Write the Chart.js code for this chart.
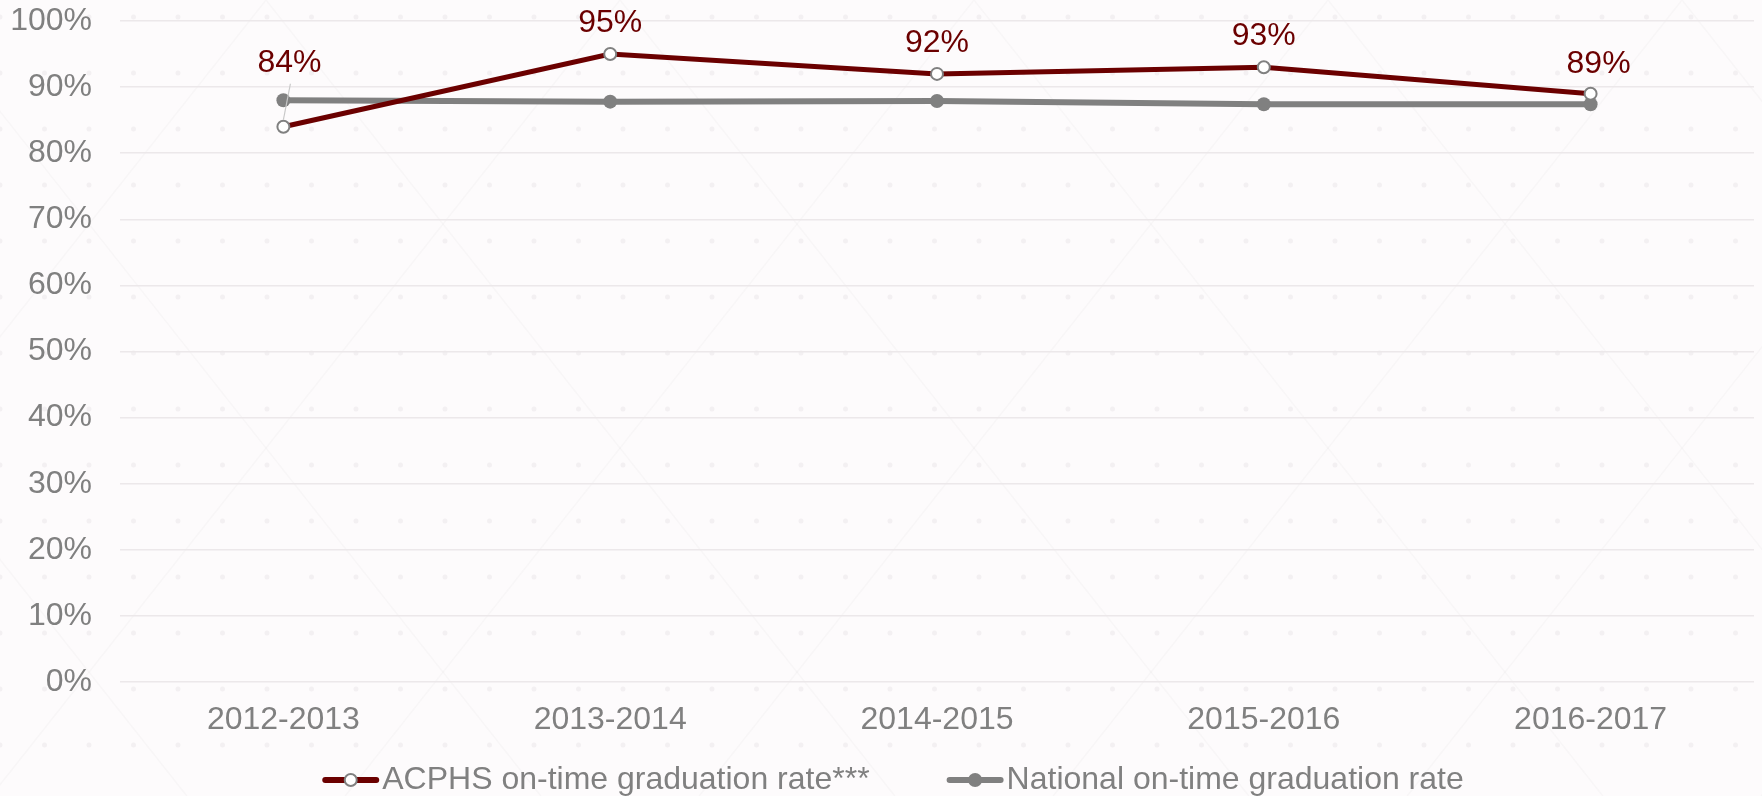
<!DOCTYPE html>
<html>
<head>
<meta charset="utf-8">
<script src="https://cdn.jsdelivr.net/npm/chart.js@4.4.1/dist/chart.umd.min.js"></script>
<style>
html, body { margin: 0; padding: 0; background: #fdfbfc; }
#wrap { width: 1762px; height: 796px; position: relative; }
</style>
</head>
<body>
<div id="wrap"><canvas id="gradChart"></canvas></div>
<script>
// data
var years = ["2012-2013", "2013-2014", "2014-2015", "2015-2016", "2016-2017"];
var acphsRate = [84, 95, 92, 93, 89];
var nationalRate = [88.0, 87.8, 87.9, 87.4, 87.4];
var seriesNames = ["ACPHS on-time graduation rate***", "National on-time graduation rate"];

var FONT = "'Liberation Sans', Arial, sans-serif";
var FSIZE = 32;
var GREY = '#808080';
var MAROON = '#6b0000';

// label above each ACPHS point (first one was pushed up with a leader line)
var labelLift = [64, 31, 31, 31, 30];
var labelShift = [6, 0, 0, 0, 8];

// faint patterned background
var bgPlugin = {
    id: 'bgPattern',
    beforeDraw: function(chart) {
        var c = chart.ctx, w = chart.width, h = chart.height;
        c.save();
        c.fillStyle = '#fdfbfc';
        c.fillRect(0, 0, w, h);
        c.strokeStyle = 'rgba(120,100,110,0.035)';
        c.lineWidth = 1.5;
        var sx = 354;
        for (var x = -h; x < w + h; x += sx) {
            c.beginPath();
            c.moveTo(x, 0); c.lineTo(x + h * 0.79, h);
            c.moveTo(x, 0); c.lineTo(x - h * 0.79, h);
            c.stroke();
        }
        c.fillStyle = 'rgba(120,100,110,0.07)';
        for (var gy = 17; gy < h; gy += 56) {
            for (var gx = 0; gx < w; gx += 44.5) {
                c.beginPath();
                c.arc(gx, gy, 2.5, 0, Math.PI * 2);
                c.fill();
            }
        }
        c.restore();
    }
};

// value labels for ACPHS
var labelPlugin = {
    id: 'valueLabels',
    afterDatasetsDraw: function(chart) {
        var c = chart.ctx;
        var meta = chart.getDatasetMeta(0);
        c.save();
        c.font = FSIZE + 'px ' + FONT;
        c.fillStyle = MAROON;
        c.textAlign = 'center';
        c.textBaseline = 'middle';
        meta.data.forEach(function(pt, i) {
            var tx = pt.x + labelShift[i], ty = pt.y - labelLift[i];
            if (labelLift[i] > 40) {
                c.strokeStyle = '#c8c8c8';
                c.lineWidth = 1.2;
                c.beginPath();
                c.moveTo(tx + 1, ty + 21);
                c.lineTo(pt.x, pt.y - 7);
                c.stroke();
            }
            c.fillText(acphsRate[i] + '%', tx, ty);
        });
        c.restore();
    }
};

// legend: line with marker, like the office chart
var legendPlugin = {
    id: 'lineLegend',
    afterDraw: function(chart) {
        var c = chart.ctx;
        c.save();
        c.font = FSIZE + 'px ' + FONT;
        c.textBaseline = 'middle';
        var lineW = 57, gapText = 3, gapItem = 77;
        var total = 0;
        chart.data.datasets.forEach(function(ds, i) {
            total += lineW + gapText + c.measureText(ds.label).width;
            if (i > 0) total += gapItem;
        });
        var x = chart.width / 2 + 12 - total / 2;
        var y = 780;
        chart.data.datasets.forEach(function(ds, i) {
            c.strokeStyle = ds.borderColor;
            c.lineWidth = 6;
            c.lineCap = 'round';
            c.beginPath();
            c.moveTo(x + 3, y); c.lineTo(x + lineW - 3, y);
            c.stroke();
            c.beginPath();
            c.arc(x + lineW / 2, y, ds.pointRadius, 0, Math.PI * 2);
            c.fillStyle = ds.pointBackgroundColor;
            c.fill();
            if (ds.pointBorderWidth > 0) {
                c.lineWidth = ds.pointBorderWidth;
                c.strokeStyle = ds.pointBorderColor;
                c.stroke();
            }
            x += lineW + gapText;
            c.fillStyle = GREY;
            c.fillText(ds.label, x, y);
            x += c.measureText(ds.label).width + gapItem;
        });
        c.restore();
    }
};

var ctx = document.getElementById("gradChart");

new Chart(ctx, {
    type: 'line',
    data: {
        labels: years,
        datasets: [{
            label: seriesNames[0],
            data: acphsRate,
            borderColor: MAROON,
            borderWidth: 5,
            pointRadius: 6,
            pointBackgroundColor: '#ffffff',
            pointBorderColor: GREY,
            pointBorderWidth: 2,
            tension: 0,
            order: 0
        }, {
            label: seriesNames[1],
            data: nationalRate,
            borderColor: GREY,
            borderWidth: 6,
            pointRadius: 7,
            pointBackgroundColor: GREY,
            pointBorderColor: GREY,
            pointBorderWidth: 0,
            tension: 0,
            order: 1
        }]
    },
    options: {
        responsive: true,
        maintainAspectRatio: false,
        animation: false,
        layout: { padding: { top: 21, bottom: 57, right: 5, left: 0 } },
        plugins: {
            legend: { display: false },
            tooltip: { enabled: false }
        },
        scales: {
            x: {
                offset: true,
                grid: { display: false, drawTicks: false },
                border: { display: false },
                afterFit: function(scale) {
                    scale.height = 57;
                    scale.paddingLeft = 0; scale.paddingRight = 0;
                },
                ticks: { color: GREY, font: { family: FONT, size: FSIZE }, padding: 19, maxRotation: 0 }
            },
            y: {
                min: 0,
                max: 100,
                grid: { color: '#ece8ea', lineWidth: 1.5, drawTicks: false },
                border: { display: false },
                afterFit: function(scale) {
                    scale.width = 120;
                    scale.paddingTop = 0; scale.paddingBottom = 0;
                },
                ticks: {
                    stepSize: 10,
                    padding: 28,
                    color: GREY,
                    font: { family: FONT, size: FSIZE },
                    callback: function(v) { return v + '%'; }
                }
            }
        }
    },
    plugins: [bgPlugin, labelPlugin, legendPlugin]
});
</script>
</body>
</html>
